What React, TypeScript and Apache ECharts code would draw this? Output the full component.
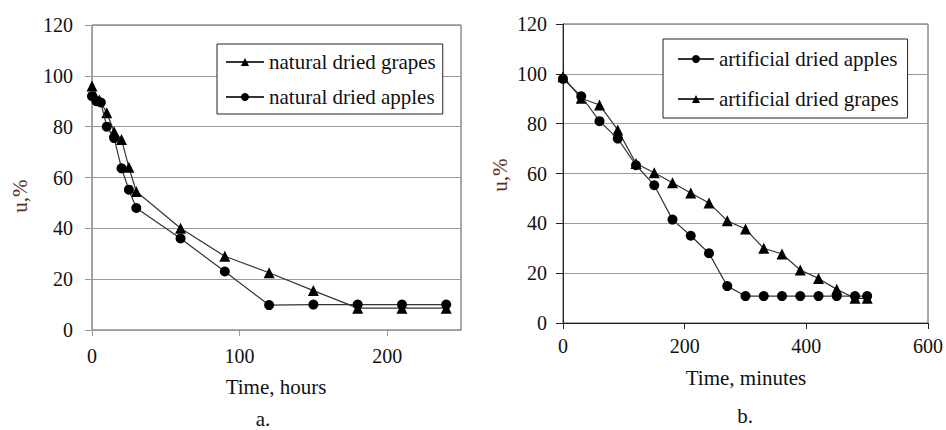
import React, { useEffect, useRef } from "react";
import * as echarts from "echarts";

// Chart a: natural drying (hours)
const natGrapesT = [0, 5, 10, 15, 20, 25, 30, 60, 90, 120, 150, 180, 210, 240];
const natGrapesU = [96, 90.5, 85.5, 78, 75, 64, 54.5, 40, 29, 22.5, 15.5, 8.6, 8.6, 8.6];
const natApplesT = [0, 3, 6, 10, 15, 20, 25, 30, 60, 90, 120, 150, 180, 210, 240];
const natApplesU = [92, 90, 89.5, 80, 75.5, 63.6, 55.2, 48, 36, 23, 9.8, 10, 10, 10, 10];

// Chart b: artificial drying (minutes)
const artT = [0, 30, 60, 90, 120, 150, 180, 210, 240, 270, 300, 330, 360, 390, 420, 450, 480, 500];
const artApplesU = [98, 91, 81, 74, 63.3, 55.3, 41.5, 35, 28, 14.8, 10.8, 10.8, 10.8, 10.8, 10.8, 10.8, 10.8, 10.8];
const artGrapesU = [98.8, 90.2, 87.5, 77.5, 64, 60.3, 56.3, 52.2, 48.2, 41, 37.7, 30, 27.7, 21.3, 17.9, 13.5, 9.9, 9.9];

const FONT = "'Liberation Serif', 'Times New Roman', serif";
const TXT = "#111";
const YTITLE = "#5c2e1e";

const pairs = (t: number[], u: number[]) => t.map((x, i) => [x, u[i]]);

export default function App() {
  const ref = useRef<HTMLDivElement>(null);
  useEffect(() => {
    document.body.style.margin = "0";
    const chart = echarts.init(ref.current!, undefined, { renderer: "svg" });
    const lineSeries = (name: string, data: number[][], sym: string, size: number, xi: number) => ({
      name,
      type: "line",
      xAxisIndex: xi,
      yAxisIndex: xi,
      data,
      symbol: sym,
      symbolSize: size,
      showAllSymbol: true,
      lineStyle: { color: "#333", width: 1.2 },
      itemStyle: { color: "#000" },
      z: sym === "triangle" ? 3 : 4,
    });
    const xCommon = (gi: number, max: number, interval: number, axisColor: string, margin: number) => ({
      type: "value",
      gridIndex: gi,
      min: 0,
      max,
      interval,
      axisLine: { show: true, lineStyle: { color: axisColor, width: 1 } },
      axisTick: { show: true, length: 6, lineStyle: { color: axisColor } },
      axisLabel: { fontFamily: FONT, fontSize: 20, color: TXT, margin, showMaxLabel: gi === 1 },
      splitLine: { show: false },
    });
    const yCommon = (gi: number, axisColor: string, margin: number) => ({
      type: "value",
      gridIndex: gi,
      min: 0,
      max: 120,
      interval: 20,
      axisLine: { show: true, lineStyle: { color: axisColor, width: 1 } },
      axisTick: { show: true, length: 7, lineStyle: { color: axisColor } },
      axisLabel: { fontFamily: FONT, fontSize: 20, color: TXT, margin },
      splitLine: { show: true, lineStyle: { color: "#9a9a9a", width: 1 } },
    });
    const legendCommon = {
      orient: "vertical",
      borderColor: "#222",
      borderWidth: 1,
      itemWidth: 38,
      itemHeight: 10,
      textStyle: { fontFamily: FONT, fontSize: 21, color: TXT, lineHeight: 22 },
      backgroundColor: "#fff",
    };
    chart.setOption({
      animation: false,
      backgroundColor: "#fff",
      grid: [
        { left: 92, top: 25, width: 369, height: 305, show: true, borderColor: "#555", borderWidth: 1 },
        { left: 563, top: 24, width: 366, height: 299, show: true, borderColor: "#555", borderWidth: 1 },
      ],
      xAxis: [xCommon(0, 250, 100, "#999", 16), xCommon(1, 600, 200, "#222", 13)],
      yAxis: [yCommon(0, "#999", 19), yCommon(1, "#222", 16)],
      legend: [
        {
          ...legendCommon,
          left: 217,
          top: 44,
          padding: [7, 7, 6, 8],
          itemGap: 13,
          data: ["natural dried grapes", "natural dried apples"],
        },
        {
          ...legendCommon,
          left: 663,
          top: 39,
          padding: [9, 9, 8, 14],
          itemGap: 18,
          itemWidth: 36,
          data: ["artificial dried apples", "artificial dried grapes"],
        },
      ],
      series: [
        lineSeries("natural dried grapes", pairs(natGrapesT, natGrapesU), "triangle", 11, 0),
        lineSeries("natural dried apples", pairs(natApplesT, natApplesU), "circle", 10, 0),
        lineSeries("artificial dried apples", pairs(artT, artApplesU), "circle", 10, 1),
        lineSeries("artificial dried grapes", pairs(artT, artGrapesU), "triangle", 11, 1),
      ],
      graphic: [
        { type: "text", x: 20, y: 196, rotation: Math.PI / 2, style: { text: "u,%", font: `21px ${FONT}`, fill: YTITLE, textAlign: "center", textVerticalAlign: "middle" } },
        { type: "text", x: 276, y: 387, style: { text: "Time, hours", font: `21px ${FONT}`, fill: TXT, textAlign: "center", textVerticalAlign: "middle" } },
        { type: "text", x: 263, y: 419, style: { text: "a.", font: `21px ${FONT}`, fill: TXT, textAlign: "center", textVerticalAlign: "middle" } },
        { type: "text", x: 500, y: 175, rotation: Math.PI / 2, style: { text: "u,%", font: `21px ${FONT}`, fill: YTITLE, textAlign: "center", textVerticalAlign: "middle" } },
        { type: "text", x: 746, y: 378, style: { text: "Time, minutes", font: `21px ${FONT}`, fill: TXT, textAlign: "center", textVerticalAlign: "middle" } },
        { type: "text", x: 745, y: 416, style: { text: "b.", font: `21px ${FONT}`, fill: TXT, textAlign: "center", textVerticalAlign: "middle" } },
      ],
    });
    return () => chart.dispose();
  }, []);
  return <div ref={ref} style={{ width: 946, height: 430 }} />;
}
